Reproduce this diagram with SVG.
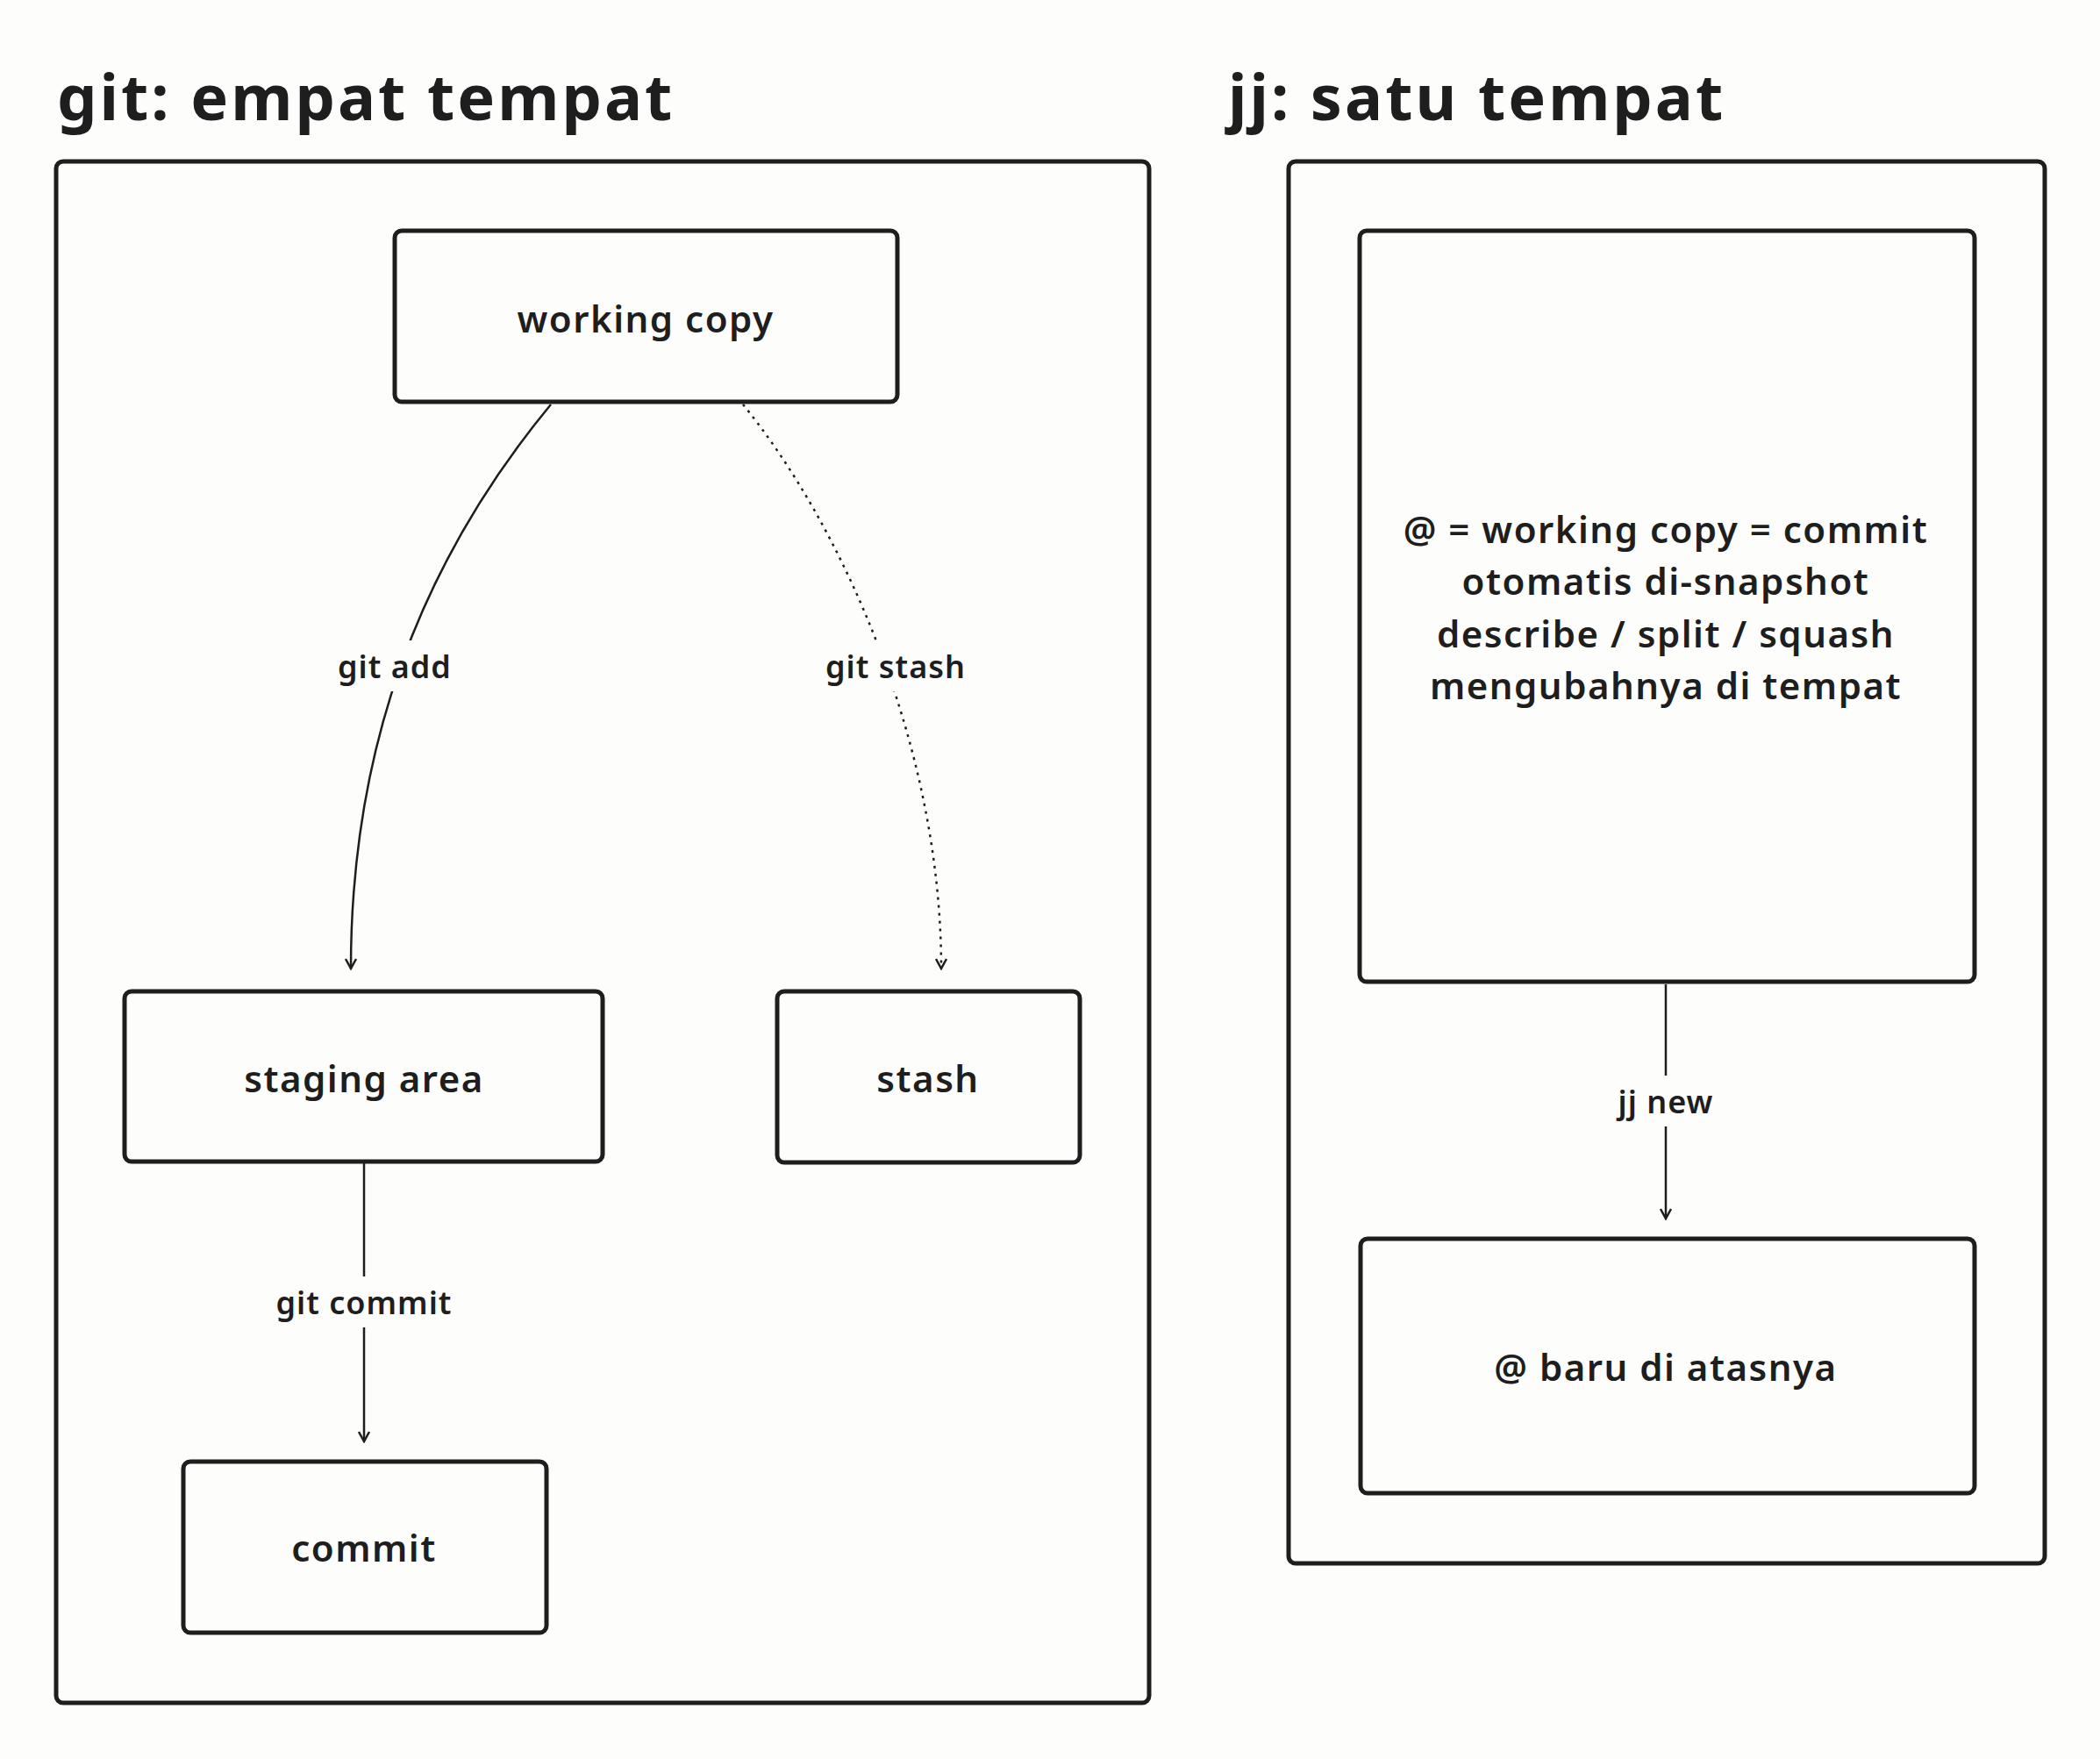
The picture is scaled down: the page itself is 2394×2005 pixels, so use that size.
<svg xmlns="http://www.w3.org/2000/svg" width="2394" height="2005" viewBox="0 0 2394 2005">
<style>
.box{fill:none;stroke:#1e1e1e;stroke-width:5}
.t{font-family:"Noto Sans",sans-serif;font-weight:600;fill:#1e1e1e;text-anchor:middle;dominant-baseline:central}
.n{font-size:42px;letter-spacing:1.5px}
.l{font-size:36px;letter-spacing:1px}
.h{font-size:72px;font-weight:700;text-anchor:start;dominant-baseline:alphabetic;letter-spacing:3px}
.c{fill:none;stroke:#1e1e1e;stroke-width:2.5}
.bg{fill:#fdfdfc}
</style>
<defs><marker id="a" markerWidth="14" markerHeight="14" refX="12" refY="7" orient="auto" markerUnits="userSpaceOnUse"><path d="M1,1 L12,7 L1,13" fill="none" stroke="#1e1e1e" stroke-width="2.5"/></marker></defs>
<rect width="2394" height="2005" fill="#fdfdfc"/>
<text class="t h" x="65" y="137">git: empat tempat</text>
<text class="t h" x="1400" y="137">jj: satu tempat</text>
<g id="git-container"><rect class="box" x="64" y="184" width="1246" height="1757" rx="8"/></g>
<g id="jj-container"><rect class="box" x="1469" y="184" width="862" height="1598" rx="8"/></g>
<g id="connectors">
<path class="c" d="M628,461 C480,640 400,850 400,1104" marker-end="url(#a)"/>
<path class="c" d="M847,461 C960,600 1073,850 1073,1104" stroke-dasharray="3,6" marker-end="url(#a)"/>
<path class="c" d="M415,1325 L415,1643" marker-end="url(#a)"/>
<path class="c" d="M1899,1122 L1899,1389" marker-end="url(#a)"/>
<rect class="bg" x="370" y="730" width="160" height="58"/><text class="t l" x="450" y="759">git add</text>
<rect class="bg" x="925" y="730" width="192" height="58"/><text class="t l" x="1021" y="759">git stash</text>
<rect class="bg" x="305" y="1455" width="220" height="58"/><text class="t l" x="415" y="1484">git commit</text>
<rect class="bg" x="1830" y="1226" width="138" height="58"/><text class="t l" x="1899" y="1255">jj new</text>
</g>
<g id="working-copy"><rect class="box" x="450" y="263" width="573" height="195" rx="8"/><text class="t n" x="736" y="362">working copy</text></g>
<g id="staging-area"><rect class="box" x="142" y="1130" width="545" height="194" rx="8"/><text class="t n" x="415" y="1228">staging area</text></g>
<g id="stash"><rect class="box" x="886" y="1130" width="345" height="195" rx="8"/><text class="t n" x="1058" y="1228">stash</text></g>
<g id="commit"><rect class="box" x="209" y="1666" width="414" height="195" rx="8"/><text class="t n" x="415" y="1763">commit</text></g>
<g id="jj-at"><rect class="box" x="1550" y="263" width="701" height="856" rx="8"/>
<text class="t n" x="1899" y="602">@ = working copy = commit</text>
<text class="t n" x="1899" y="661">otomatis di-snapshot</text>
<text class="t n" x="1899" y="721">describe / split / squash</text>
<text class="t n" x="1899" y="780">mengubahnya di tempat</text></g>
<g id="jj-new-at"><rect class="box" x="1551" y="1412" width="700" height="290" rx="8"/><text class="t n" x="1899" y="1557">@ baru di atasnya</text></g>
</svg>
